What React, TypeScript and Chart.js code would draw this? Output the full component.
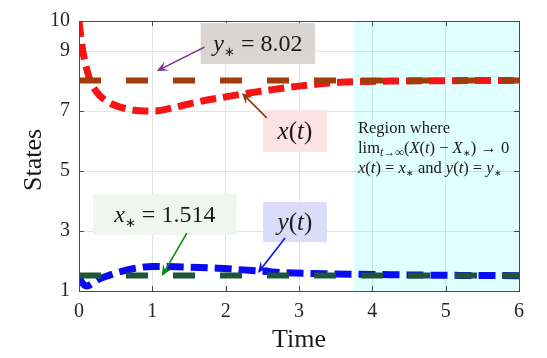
import React, { useEffect, useRef } from 'react';
import { Chart, registerables } from 'chart.js';

Chart.register(...registerables);

// ---- data ----
const xTime = [0, 0.05, 0.1, 0.15, 0.22, 0.35, 0.56, 0.83, 1.04, 1.3, 1.65, 2.0, 2.24, 2.6, 3.0, 3.42, 3.83, 4.4, 5.0, 6.0];
const xValues = [10, 9.03, 8.45, 8.03, 7.7, 7.37, 7.13, 7.01, 7.0, 7.12, 7.32, 7.47, 7.57, 7.7, 7.83, 7.93, 7.98, 8.0, 8.01, 8.02];
const yTime = [0, 0.05, 0.11, 0.18, 0.25, 0.42, 0.53, 0.75, 1.0, 1.45, 1.9, 2.36, 2.81, 3.49, 4.38, 5.2, 6.0];
const yValues = [1.47, 1.25, 1.17, 1.25, 1.37, 1.53, 1.62, 1.75, 1.82, 1.8, 1.76, 1.68, 1.61, 1.57, 1.54, 1.52, 1.51];
const xStar = 1.514;
const yStar = 8.02;
const xTickValues = [0, 1, 2, 3, 4, 5, 6];
const yTickValues = [1, 3, 5, 7, 9, 10];
const regionStart = 3.75;
const regionEnd = 6;

const SERIF = '"Liberation Serif", "Times New Roman", serif';

type Seg = { t: string; it?: boolean; sub?: boolean; star?: boolean };

// annotations in data coordinates
const notes = [
  {
    segs: [{ t: 'y', it: true }, { t: '∗', sub: true, star: true }, { t: ' = 8.02' }] as Seg[],
    box: [1.66, 3.22, 9.93, 8.57], bg: '#d8d5d3', size: 24,
    arrow: [1.71, 9.13, 1.06, 8.33], arrowColor: '#7e2f8e',
  },
  {
    segs: [{ t: 'x', it: true }, { t: '(' }, { t: 't', it: true }, { t: ')' }] as Seg[],
    box: [2.51, 3.38, 7.03, 5.63], bg: '#fde3e3', size: 25,
    arrow: [2.56, 6.77, 2.22, 7.6], arrowColor: '#8b3a10',
  },
  {
    segs: [{ t: 'x', it: true }, { t: '∗', sub: true, star: true }, { t: ' = 1.514' }] as Seg[],
    box: [0.19, 2.15, 4.23, 2.87], bg: '#eef6ee', size: 24,
    arrow: [1.47, 2.93, 1.13, 1.5], arrowColor: '#0b8a0b',
  },
  {
    segs: [{ t: 'y', it: true }, { t: '(' }, { t: 't', it: true }, { t: ')' }] as Seg[],
    box: [2.51, 3.38, 3.97, 2.63], bg: '#dcdcfa', size: 25,
    arrow: [2.81, 2.77, 2.44, 1.6], arrowColor: '#1010ee',
  },
];

const regionLines: Seg[][] = [
  [{ t: 'Region where' }],
  [{ t: 'lim' }, { t: 't→∞', it: true, sub: true }, { t: '(' }, { t: 'X', it: true }, { t: '(' }, { t: 't', it: true }, { t: ') − ' }, { t: 'X', it: true }, { t: '∗', sub: true, star: true }, { t: ') → 0' }],
  [{ t: 'x', it: true }, { t: '(' }, { t: 't', it: true }, { t: ') = ' }, { t: 'x', it: true }, { t: '∗', sub: true, star: true }, { t: ' and ' }, { t: 'y', it: true }, { t: '(' }, { t: 't', it: true }, { t: ') = ' }, { t: 'y', it: true }, { t: '∗', sub: true, star: true }],
];

function segFont(s: Seg, size: number) {
  const sz = s.star ? Math.round(size * 0.55) : s.sub ? Math.round(size * 0.7) : size;
  return `${s.it ? 'italic ' : ''}${sz}px ${SERIF}`;
}

function richWidth(ctx: CanvasRenderingContext2D, segs: Seg[], size: number) {
  let w = 0;
  for (const s of segs) {
    ctx.font = segFont(s, size);
    w += ctx.measureText(s.t).width;
  }
  return w;
}

function drawRich(ctx: CanvasRenderingContext2D, segs: Seg[], x: number, y: number, size: number, color: string) {
  ctx.fillStyle = color;
  ctx.textBaseline = 'alphabetic';
  ctx.textAlign = 'left';
  let cx = x;
  for (const s of segs) {
    ctx.font = segFont(s, size);
    ctx.fillText(s.t, cx, s.sub ? y + size * 0.2 : y);
    cx += ctx.measureText(s.t).width;
  }
}

function drawArrow(ctx: CanvasRenderingContext2D, x0: number, y0: number, x1: number, y1: number, color: string) {
  const ang = Math.atan2(y1 - y0, x1 - x0);
  const hl = 11, hw = 5;
  ctx.save();
  ctx.strokeStyle = color;
  ctx.fillStyle = color;
  ctx.lineWidth = 1.6;
  ctx.beginPath();
  ctx.moveTo(x0, y0);
  ctx.lineTo(x1 - Math.cos(ang) * hl * 0.6, y1 - Math.sin(ang) * hl * 0.6);
  ctx.stroke();
  const bx = x1 - Math.cos(ang) * hl, by = y1 - Math.sin(ang) * hl;
  const mx = x1 - Math.cos(ang) * hl * 0.6, my = y1 - Math.sin(ang) * hl * 0.6;
  ctx.beginPath();
  ctx.moveTo(x1, y1);
  ctx.lineTo(bx + Math.sin(ang) * hw, by - Math.cos(ang) * hw);
  ctx.lineTo(mx, my);
  ctx.lineTo(bx - Math.sin(ang) * hw, by + Math.cos(ang) * hw);
  ctx.closePath();
  ctx.fill();
  ctx.restore();
}

const decorPlugin = {
  id: 'decor',
  beforeDatasetsDraw(chart: any) {
    const { ctx, chartArea: a, scales } = chart;
    const x0 = scales.x.getPixelForValue(regionStart);
    const x1 = scales.x.getPixelForValue(regionEnd);
    ctx.save();
    ctx.fillStyle = 'rgba(0,255,255,0.12)';
    ctx.fillRect(x0, a.top, x1 - x0, a.bottom - a.top);
    ctx.restore();
  },
  afterDatasetsDraw(chart: any) {
    const { ctx, chartArea: a, scales } = chart;
    const sx = scales.x, sy = scales.y;
    ctx.save();
    // frame
    ctx.strokeStyle = '#4a4a4a';
    ctx.lineWidth = 1;
    ctx.strokeRect(Math.round(a.left) + 0.5, Math.round(a.top) + 0.5, Math.round(a.right - a.left), Math.round(a.bottom - a.top));
    // inward ticks
    const tl = 5;
    ctx.beginPath();
    for (const v of xTickValues) {
      const px = Math.round(sx.getPixelForValue(v)) + 0.5;
      ctx.moveTo(px, a.bottom); ctx.lineTo(px, a.bottom - tl);
      ctx.moveTo(px, a.top); ctx.lineTo(px, a.top + tl);
    }
    for (const v of yTickValues) {
      const py = Math.round(sy.getPixelForValue(v)) + 0.5;
      ctx.moveTo(a.left, py); ctx.lineTo(a.left + tl, py);
      ctx.moveTo(a.right, py); ctx.lineTo(a.right - tl, py);
    }
    ctx.stroke();

    // region text
    const rx = sx.getPixelForValue(regionStart) + 4;
    const rsize = 16.5;
    const ry0 = sy.getPixelForValue(6.27);
    regionLines.forEach((line, i) => {
      drawRich(ctx, line, rx, ry0 + i * 20, rsize, '#1a1a1a');
    });

    // annotation boxes and arrows
    for (const n of notes) {
      const bx0 = sx.getPixelForValue(n.box[0]);
      const bx1 = sx.getPixelForValue(n.box[1]);
      const by0 = sy.getPixelForValue(n.box[2]);
      const by1 = sy.getPixelForValue(n.box[3]);
      ctx.fillStyle = n.bg;
      ctx.fillRect(bx0, by0, bx1 - bx0, by1 - by0);
      const w = richWidth(ctx, n.segs, n.size);
      drawRich(ctx, n.segs, (bx0 + bx1) / 2 - w / 2, (by0 + by1) / 2 + n.size * 0.3, n.size, '#1a1a1a');
      drawArrow(ctx,
        sx.getPixelForValue(n.arrow[0]), sy.getPixelForValue(n.arrow[1]),
        sx.getPixelForValue(n.arrow[2]), sy.getPixelForValue(n.arrow[3]), n.arrowColor);
    }

    // axis titles
    ctx.fillStyle = '#1a1a1a';
    ctx.font = `26px ${SERIF}`;
    ctx.textAlign = 'center';
    ctx.textBaseline = 'middle';
    ctx.fillText('Time', (a.left + a.right) / 2, 340);
    ctx.translate(34, (a.top + a.bottom) / 2 + 4);
    ctx.rotate(-Math.PI / 2);
    ctx.fillText('States', 0, 0);
    ctx.restore();
  },
};

export default function App() {
  const ref = useRef<HTMLCanvasElement>(null);
  useEffect(() => {
    document.body.style.margin = '0';
    document.body.style.overflow = 'hidden';
    const canvas = ref.current!;
    const chart = new Chart(canvas, {
      type: 'line',
      data: {
        datasets: [
          {
            label: 'y*',
            data: xTickValues.filter((v) => v === 0 || v === 6).map((t) => ({ x: t, y: yStar })),
            borderColor: '#a23c08',
            borderWidth: 6,
            borderDash: [22, 25],
            pointRadius: 0,
          },
          {
            label: 'x*',
            data: xTickValues.filter((v) => v === 0 || v === 6).map((t) => ({ x: t, y: xStar })),
            borderColor: '#1c5638',
            borderWidth: 6,
            borderDash: [22, 25],
            pointRadius: 0,
          },
          {
            label: 'x(t)',
            data: xTime.map((t, i) => ({ x: t, y: xValues[i] })),
            borderColor: '#f51515',
            borderWidth: 7,
            borderDash: [16, 7],
            pointRadius: 0,
            cubicInterpolationMode: 'monotone',
          },
          {
            label: 'y(t)',
            data: yTime.map((t, i) => ({ x: t, y: yValues[i] })),
            borderColor: '#0a0af5',
            borderWidth: 7,
            borderDash: [17, 7],
            pointRadius: 0,
            cubicInterpolationMode: 'monotone',
          },
        ],
      },
      options: {
        responsive: false,
        animation: false,
        devicePixelRatio: 1,
        layout: { padding: { top: 21, right: 28, left: 0, bottom: 0 } },
        plugins: { legend: { display: false }, tooltip: { enabled: false } },
        scales: {
          x: {
            type: 'linear',
            min: 0,
            max: 6,
            afterBuildTicks: (s: any) => { s.ticks = xTickValues.map((v) => ({ value: v })); },
            afterFit: (s: any) => { s.height = 67; },
            ticks: { font: { family: SERIF, size: 20 }, color: '#262626', padding: 9, maxRotation: 0 },
            grid: { color: '#e3e3e3', drawTicks: false },
            border: { display: false },
          },
          y: {
            type: 'linear',
            min: 1,
            max: 10,
            afterBuildTicks: (s: any) => { s.ticks = yTickValues.map((v) => ({ value: v })); },
            afterFit: (s: any) => { s.width = 79; },
            ticks: { font: { family: SERIF, size: 20 }, color: '#262626', padding: 9 },
            grid: { color: '#e3e3e3', drawTicks: false },
            border: { display: false },
          },
        },
      },
      plugins: [decorPlugin],
    } as any);
    return () => chart.destroy();
  }, []);
  return <canvas ref={ref} width={547} height={358} style={{ display: 'block' }} />;
}
